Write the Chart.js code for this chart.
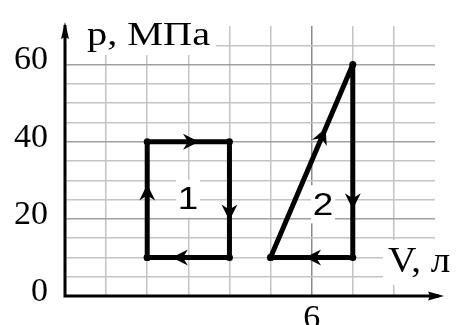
<!DOCTYPE html>
<html lang="ru">
<head>
    <meta charset="UTF-8">
    <title>p–V диаграмма</title>
    <script src="https://cdn.jsdelivr.net/npm/chart.js"></script>
    <style>
        * {
            margin: 0;
            padding: 0;
            box-sizing: border-box;
        }

        body {
            background: white;
        }

        .chart-box {
            width: 462px;
            height: 325px;
        }
    </style>
</head>
<body>
    <div class="chart-box">
        <canvas id="pv-chart"></canvas>
    </div>

    <script>
        // cycle 1: rectangle, cycle 2: triangle (V in litres, p in MPa)
        const cycle1V = [2, 2, 4, 4, 2];
        const cycle1P = [10, 40, 40, 10, 10];
        const cycle2V = [5, 7, 7, 5];
        const cycle2P = [10, 60, 10, 10];

        // where the arrow tip sits along each segment (0..1)
        const cycle1Arrows = [0.63, 0.63, 0.68, 0.7];
        const cycle2Arrows = [0.67, 0.75, 0.58];

        const pTickLabels = [0, 20, 40, 60];
        const vTickLabels = [6];
        const majorP = [20, 40, 60];
        const majorV = [6];

        const SERIF = '"Liberation Serif", "Times New Roman", serif';
        const SANS = '"Liberation Sans", Arial, sans-serif';

        function toPoints(vs, ps) {
            return vs.map((v, i) => ({ x: v, y: ps[i] }));
        }

        function drawHead(ctx, tx, ty, angle, len, half, notch) {
            ctx.save();
            ctx.translate(tx, ty);
            ctx.rotate(angle);
            ctx.beginPath();
            ctx.moveTo(0, 0);
            ctx.lineTo(-len, -half);
            ctx.lineTo(-len + notch, 0);
            ctx.lineTo(-len, half);
            ctx.closePath();
            ctx.fillStyle = '#000';
            ctx.fill();
            ctx.restore();
        }

        function drawCycleArrows(ctx, xs, ys, vs, ps, ts) {
            ts.forEach((t, i) => {
                const x1 = xs.getPixelForValue(vs[i]);
                const y1 = ys.getPixelForValue(ps[i]);
                const x2 = xs.getPixelForValue(vs[i + 1]);
                const y2 = ys.getPixelForValue(ps[i + 1]);
                const tx = x1 + (x2 - x1) * t;
                const ty = y1 + (y2 - y1) * t;
                drawHead(ctx, tx, ty, Math.atan2(y2 - y1, x2 - x1), 16, 8, 5);
            });
        }

        function boxedText(ctx, text, x, y, font, sx, pad) {
            ctx.save();
            ctx.font = font;
            const w = ctx.measureText(text).width * sx;
            ctx.fillStyle = 'white';
            ctx.fillRect(x - pad[3], y - pad[0], w + pad[1] + pad[3], pad[0] + pad[2]);
            ctx.translate(x, y);
            ctx.scale(sx, 1);
            ctx.fillStyle = '#000';
            ctx.textBaseline = 'alphabetic';
            ctx.fillText(text, 0, 0);
            ctx.restore();
        }

        const overlay = {
            id: 'overlay',
            beforeDatasetsDraw(chart) {
                const { ctx, chartArea, scales: { x, y } } = chart;
                const x0 = x.getPixelForValue(0);
                const y0 = y.getPixelForValue(0);

                // axis titles and cycle numbers sit on white patches over the grid
                boxedText(ctx, 'p, МПа', 87, 45, '33px ' + SERIF, 1.22, [30, 6, 10, 20]);
                boxedText(ctx, 'V, л', 388, 272, '35px ' + SERIF, 1.12, [32, 10, 13, 5]);

                ctx.save();
                ctx.font = '32px ' + SANS;
                ctx.textAlign = 'center';
                ctx.textBaseline = 'middle';
                [['1', 25, 188], ['2', 23.5, 323]].forEach(([txt, p, px]) => {
                    const cy = y.getPixelForValue(p);
                    ctx.fillStyle = 'white';
                    ctx.fillRect(px - 12, cy - 20, 24, 38);
                    ctx.fillStyle = '#000';
                    ctx.save();
                    ctx.translate(px, cy + 1);
                    ctx.scale(1.15, 1);
                    ctx.fillText(txt, 0, 0);
                    ctx.restore();
                });
                ctx.restore();

                // axes with arrows
                ctx.save();
                ctx.strokeStyle = '#000';
                ctx.lineWidth = 3;
                ctx.beginPath();
                ctx.moveTo(x0, y0 + 1.5);
                ctx.lineTo(x0, chartArea.top - 1);
                ctx.moveTo(x0 - 1.5, y0);
                ctx.lineTo(chartArea.right + 4, y0);
                ctx.stroke();
                ctx.restore();
                drawHead(ctx, x0, chartArea.top - 4, -Math.PI / 2, 17, 4, 2);
                drawHead(ctx, chartArea.right + 9, y0, 0, 16, 4.5, 2);
            },
            afterDatasetsDraw(chart) {
                const { ctx, scales: { x, y } } = chart;
                drawCycleArrows(ctx, x, y, cycle1V, cycle1P, cycle1Arrows);
                drawCycleArrows(ctx, x, y, cycle2V, cycle2P, cycle2Arrows);
            }
        };

        const lineStyle = {
            showLine: true,
            borderColor: '#000',
            borderWidth: 5,
            borderJoinStyle: 'round',
            borderCapStyle: 'round',
            pointRadius: 3.5,
            pointBorderWidth: 0,
            pointBackgroundColor: '#000',
            tension: 0
        };

        new Chart(document.getElementById('pv-chart'), {
            type: 'scatter',
            data: {
                datasets: [
                    { label: '1', data: toPoints(cycle1V, cycle1P), ...lineStyle },
                    { label: '2', data: toPoints(cycle2V, cycle2P), ...lineStyle }
                ]
            },
            options: {
                responsive: true,
                maintainAspectRatio: false,
                animation: false,
                events: [],
                layout: {
                    padding: { left: 0, right: 27, top: 26, bottom: 0 }
                },
                plugins: {
                    legend: { display: false },
                    tooltip: { enabled: false }
                },
                scales: {
                    x: {
                        type: 'linear',
                        min: 0,
                        max: 9,
                        afterFit: scale => {
                            scale.height = 29;
                            scale.paddingLeft = 0;
                            scale.paddingRight = 0;
                        },
                        border: { display: false },
                        grid: {
                            drawTicks: false,
                            lineWidth: 1.5,
                            color: c => {
                                const v = c.tick.value;
                                if (v === 0 || v === 9) return 'rgba(0,0,0,0)';
                                return majorV.includes(v) ? '#8a8a8a' : '#c4c4c4';
                            }
                        },
                        ticks: {
                            stepSize: 1,
                            autoSkip: false,
                            maxRotation: 0,
                            padding: 3,
                            color: '#000',
                            font: { family: SERIF, size: 34 },
                            callback: v => vTickLabels.includes(v) ? String(v) : ''
                        }
                    },
                    y: {
                        type: 'linear',
                        min: 0,
                        max: 70,
                        afterFit: scale => {
                            scale.width = 65;
                            scale.paddingTop = 0;
                            scale.paddingBottom = 0;
                        },
                        border: { display: false },
                        grid: {
                            drawTicks: false,
                            lineWidth: 1.5,
                            color: c => {
                                const v = c.tick.value;
                                if (v === 0 || v === 70) return 'rgba(0,0,0,0)';
                                return majorP.includes(v) ? '#a0a0a0' : '#c4c4c4';
                            }
                        },
                        ticks: {
                            stepSize: 5,
                            autoSkip: false,
                            padding: 17,
                            labelOffset: -4,
                            color: '#000',
                            font: { family: SERIF, size: 34 },
                            callback: v => pTickLabels.includes(v) ? String(v) : ''
                        }
                    }
                }
            },
            plugins: [overlay]
        });
    </script>
</body>
</html>
